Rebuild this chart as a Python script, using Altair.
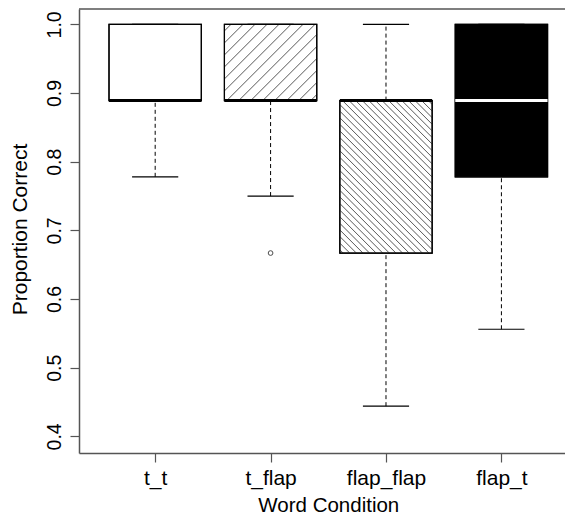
import altair as alt
import pandas as pd

# ---- data ----
categories = ["t_t", "t_flap", "flap_flap", "flap_t"]
positions = [1, 2, 3, 4]
lower_whisker = [0.778, 0.750, 0.444, 0.556]
q1 = [0.889, 0.889, 0.667, 0.778]
median = [0.889, 0.889, 0.889, 0.889]
q3 = [1.0, 1.0, 0.889, 1.0]
upper_whisker = [1.0, 1.0, 1.0, 1.0]
box_fill = ["white", "white", "white", "black"]
median_color = ["black", "black", "black", "white"]
hatch_spacing = [0, 12.0, 6.6, 0]          # pixel spacing of hatch lines
hatch_dir = ["", "/", "\\", ""]
outlier_cat = [2]
outlier_val = [0.667]
y_ticks = [0.4, 0.5, 0.6, 0.7, 0.8, 0.9, 1.0]

# ---- layout ----
W, H = 486, 444
XMIN, XMAX = 0.34, 4.551
YMIN, YMAX = 0.3758, 1.0224
PX_X = W / (XMAX - XMIN)
PX_Y = H / (YMAX - YMIN)
HALF = 0.4
CAP = 0.2
FONT = "Liberation Sans"
FRAME = "#555"

boxes = pd.DataFrame({
    "cat": categories, "pos": positions,
    "left": [p - HALF for p in positions], "right": [p + HALF for p in positions],
    "capl": [p - CAP for p in positions], "capr": [p + CAP for p in positions],
    "lw": lower_whisker, "q1": q1, "med": median, "q3": q3, "uw": upper_whisker,
    "fill": box_fill, "medcol": median_color,
})

# hatch segments derived from the box extents
segs = []
for p, lo, hi, s, d in zip(positions, q1, q3, hatch_spacing, hatch_dir):
    if not s:
        continue
    w = 2 * HALF * PX_X
    h = (hi - lo) * PX_Y
    c = -w + s / 2 if d == "/" else s / 2
    cmax = h if d == "/" else w + h
    while c < cmax:
        if d == "/":
            x0 = max(0.0, -c); x1 = min(w, h - c)
            y0 = x0 + c; y1 = x1 + c
        else:
            x0 = max(0.0, c - h); x1 = min(w, c)
            y0 = c - x0; y1 = c - x1
        if x1 > x0:
            segs.append({
                "x": p - HALF + x0 / PX_X, "x2": p - HALF + x1 / PX_X,
                "y": lo + y0 / PX_Y, "y2": lo + y1 / PX_Y,
            })
        c += s
hatch = pd.DataFrame(segs)

outliers = pd.DataFrame({"pos": outlier_cat, "val": outlier_val})
frame_top = pd.DataFrame({"x": [XMIN], "x2": [XMAX], "y": [YMAX]})

label_expr = ("datum.value == 1 ? 't_t' : datum.value == 2 ? 't_flap' : "
              "datum.value == 3 ? 'flap_flap' : datum.value == 4 ? 'flap_t' : ''")

xscale = alt.Scale(domain=[XMIN, XMAX], nice=False, zero=False)
yscale = alt.Scale(domain=[YMIN, YMAX], nice=False, zero=False)

xaxis = alt.Axis(values=positions, labelExpr=label_expr, grid=False,
                 domain=True, domainColor=FRAME, domainWidth=1.5,
                 tickSize=9, tickColor=FRAME, tickWidth=1.2,
                 labelFont=FONT, labelFontSize=21, labelColor="black",
                 labelBaseline="alphabetic", labelPadding=22, labelFlush=False,
                 title="Word Condition", titleFont=FONT, titleFontSize=20.5,
                 titleFontWeight="normal", titleColor="black",
                 titleBaseline="alphabetic", titleAlign="center",
                 titleX=328.3 - 79, titleY=58)
yaxis = alt.Axis(values=y_ticks, format=".1f", grid=False,
                 domain=True, domainColor=FRAME, domainWidth=1.5,
                 tickSize=9, tickColor=FRAME, tickWidth=1.2,
                 labelFont=FONT, labelFontSize=19.5, labelColor="black",
                 labelAngle=270, labelAlign="center", labelBaseline="alphabetic",
                 labelPadding=10,
                 title="Proportion Correct", titleFont=FONT, titleFontSize=21,
                 titleFontWeight="normal", titleColor="black", titleAngle=270,
                 titleBaseline="alphabetic", titleAlign="center",
                 titleX=26.5 - 79, titleY=229 - 9)

base = alt.Chart(boxes)

rect = base.mark_rect(stroke="black", strokeWidth=1.2).encode(
    x=alt.X("left:Q", scale=xscale, axis=xaxis), x2="right:Q",
    y=alt.Y("q1:Q", scale=yscale, axis=yaxis), y2="q3:Q",
    fill=alt.Fill("fill:N", scale=None),
)

hatch_layer = alt.Chart(hatch).mark_rule(color="#444", strokeWidth=0.9).encode(
    x=alt.X("x:Q", scale=xscale), x2="x2:Q",
    y=alt.Y("y:Q", scale=yscale), y2="y2:Q",
)

outline = base.mark_rect(fillOpacity=0, stroke="black", strokeWidth=1.2).encode(
    x=alt.X("left:Q", scale=xscale), x2="right:Q",
    y=alt.Y("q1:Q", scale=yscale), y2="q3:Q",
)

whisk_lo = base.mark_rule(color="black", strokeWidth=1, strokeDash=[4, 3]).encode(
    x=alt.X("pos:Q", scale=xscale), y=alt.Y("lw:Q", scale=yscale), y2="q1:Q")
whisk_hi = base.mark_rule(color="black", strokeWidth=1, strokeDash=[4, 3]).encode(
    x=alt.X("pos:Q", scale=xscale), y=alt.Y("q3:Q", scale=yscale), y2="uw:Q")

cap_lo = base.mark_rule(color="black", strokeWidth=1.2).encode(
    x=alt.X("capl:Q", scale=xscale), x2="capr:Q", y=alt.Y("lw:Q", scale=yscale))
cap_hi = base.mark_rule(color="black", strokeWidth=1.2).encode(
    x=alt.X("capl:Q", scale=xscale), x2="capr:Q", y=alt.Y("uw:Q", scale=yscale))

med = base.mark_rule(strokeWidth=3).encode(
    x=alt.X("left:Q", scale=xscale), x2="right:Q", y=alt.Y("med:Q", scale=yscale),
    color=alt.Color("medcol:N", scale=None),
)

out = alt.Chart(outliers).mark_point(shape="circle", filled=False, size=22,
                                     color="black", strokeWidth=1).encode(
    x=alt.X("pos:Q", scale=xscale), y=alt.Y("val:Q", scale=yscale))

top = alt.Chart(frame_top).mark_rule(color=FRAME, strokeWidth=1.5).encode(
    x=alt.X("x:Q", scale=xscale), x2="x2:Q", y=alt.Y("y:Q", scale=yscale))

chart = alt.layer(rect, hatch_layer, outline, whisk_lo, whisk_hi, cap_lo, cap_hi,
                  med, out, top).properties(
    width=W, height=H,
    autosize=alt.AutoSizeParams(type="none"),
    padding={"left": 71, "top": 1, "right": 0, "bottom": 63},
    background="white",
).configure_view(stroke=None)

chart.save("out.html", embed_options={"renderer": "svg", "actions": False})
